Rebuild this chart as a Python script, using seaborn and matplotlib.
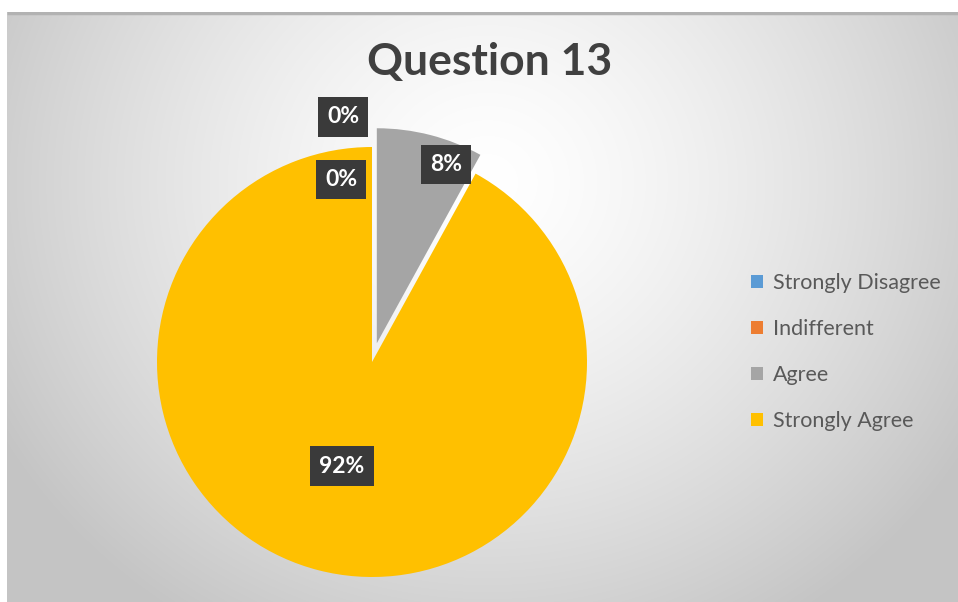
import numpy as np
import matplotlib
matplotlib.use("Agg")
import matplotlib.pyplot as plt
import seaborn as sns

# ---- data ----
categories = ["Strongly Disagree", "Indifferent", "Agree", "Strongly Agree"]
values = [0, 0, 8, 92]
pct_labels = ["0%", "0%", "8%", "92%"]
title = "Question 13"

sns.set_theme(style="white")
plt.rcParams["font.family"] = ["Lato", "DejaVu Sans"]

colors = ["#5B9BD5", "#ED7D31", "#A5A5A5", "#FFC000"]

W, H = 958, 602
fig = plt.figure(figsize=(W / 100, H / 100), dpi=100)
fig.patch.set_facecolor("white")

# ---- background radial gradient ----
bx0, by_top = 7, 12
bg = fig.add_axes([bx0 / W, 0, (W - bx0) / W, (H - by_top) / H])
bg.set_zorder(-10)
nx, ny = W - bx0, H - by_top
xx, yy = np.meshgrid(np.arange(nx), np.arange(ny))
cx, cy = 480, 170
d = np.sqrt(((xx - cx) / 560.0) ** 2 + ((yy - cy) / 520.0) ** 2)
d = np.clip(d, 0, 1)
val = 1.0 - (1.0 - 0.77) * d ** 1.4
img = np.dstack([val, val, val])
bg.imshow(img, aspect="auto", extent=[0, nx, ny, 0], interpolation="bilinear")
bg.plot([0, nx], [1, 1], color="#b2b2b2", lw=2.5, solid_capstyle="butt")
bg.set_xlim(0, nx)
bg.set_ylim(ny, 0)
bg.axis("off")

# ---- pie axes ----
pcx, pcy, R = 372, 362, 215
half = 250
ax = fig.add_axes([(pcx - half) / W, (H - pcy - half) / H, 2 * half / W, 2 * half / H])

explode = [0, 0, 0.09, 0]
wedges, _ = ax.pie(values, colors=colors, startangle=90, counterclock=False,
                   explode=explode, radius=1.0,
                   wedgeprops=dict(linewidth=0))
for w in wedges:
    w.set_clip_on(False)
ax.set_xlim(-half / R, half / R)
ax.set_ylim(-half / R, half / R)
ax.set_aspect("equal")
ax.axis("off")
ax.patch.set_alpha(0)

# ---- data labels ----
label_r = [1.14, 0.85, 0.86, 0.50]
label_dx = [-0.135, -0.144, 0.108, -0.015]
for w, lab, r, dx, ex in zip(wedges, pct_labels, label_r, label_dx, explode):
    mid = np.deg2rad((w.theta1 + w.theta2) / 2.0)
    x = r * np.cos(mid) + dx + ex * np.cos(mid)
    y = r * np.sin(mid) + ex * np.sin(mid)
    ax.text(x, y, lab, ha="center", va="center", fontsize=16.5, fontweight="bold",
            color="white", zorder=5,
            bbox=dict(boxstyle="square,pad=0.4", facecolor="#3a3a3a", edgecolor="none"))

# ---- title ----
fig.text(490 / W, 1 - 62 / H, title, ha="center", va="center", fontsize=32,
         fontweight="bold", color="#404040")

# ---- legend ----
leg = fig.legend(wedges, categories, loc="center left",
                 bbox_to_anchor=(751 / W, 1 - 352 / H), frameon=False,
                 fontsize=15.5, labelspacing=1.2, handlelength=0.55, handleheight=0.55,
                 handletextpad=0.45, borderpad=0, borderaxespad=0)
for t in leg.get_texts():
    t.set_color("#595959")

fig.savefig("out.png", dpi=100)
